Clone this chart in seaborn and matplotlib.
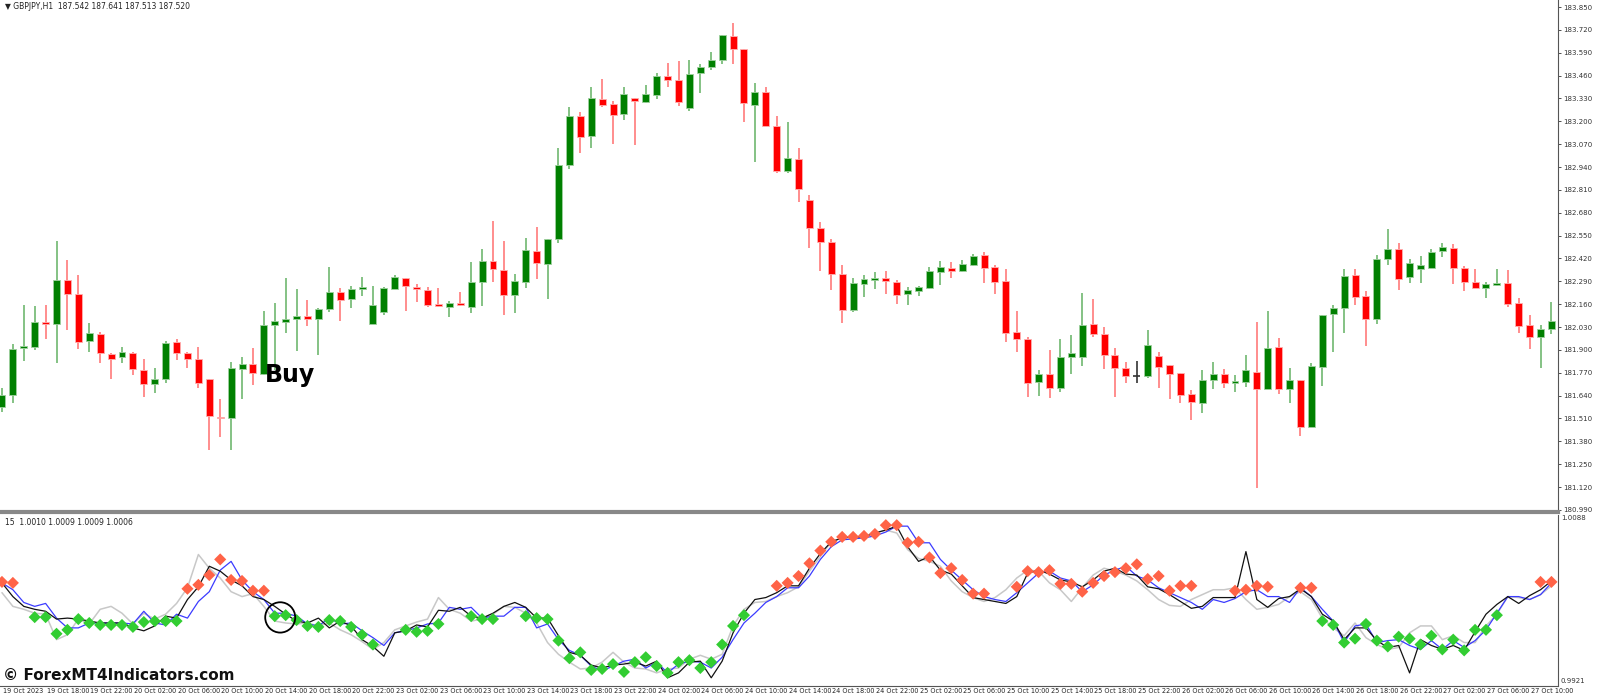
import numpy as np
import pandas as pd
import matplotlib
matplotlib.use("Agg")
import matplotlib.pyplot as plt
import seaborn as sns

sns.set_style("white")
plt.rcParams['font.family'] = ['DejaVu Sans']

# GBPJPY H1 candles (open, high, low, close)
opens = [181.575, 181.643, 181.911, 181.917, 182.059, 182.047, 182.298, 182.218, 181.951, 181.991,
         181.877, 181.860, 181.883, 181.786, 181.706, 181.735, 181.945, 181.883, 181.848, 181.735,
         181.519, 181.513, 181.792, 181.820, 181.763, 182.042, 182.059, 182.076, 182.093, 182.076,
         182.133, 182.229, 182.190, 182.246, 182.047, 182.116, 182.246, 182.309, 182.258, 182.241,
         182.161, 182.144, 182.167, 182.144, 182.286, 182.406, 182.355, 182.212, 182.286, 182.463,
         182.389, 182.531, 182.952, 183.230, 183.117, 183.327, 183.299, 183.242, 183.333, 183.310,
         183.350, 183.458, 183.435, 183.276, 183.475, 183.509, 183.549, 183.685, 183.611, 183.293,
         183.367, 183.173, 182.918, 182.986, 182.753, 182.593, 182.514, 182.332, 182.127, 182.275,
         182.298, 182.309, 182.286, 182.218, 182.235, 182.252, 182.343, 182.366, 182.349, 182.383,
         182.440, 182.372, 182.292, 182.002, 181.962, 181.718, 181.763, 181.684, 181.860, 181.860,
         182.047, 181.991, 181.871, 181.797, 181.752, 181.752, 181.865, 181.814, 181.769, 181.649,
         181.598, 181.729, 181.763, 181.712, 181.718, 181.775, 181.678, 181.917, 181.678, 181.729,
         181.462, 181.803, 182.104, 182.138, 182.326, 182.207, 182.076, 182.417, 182.474, 182.315,
         182.360, 182.366, 182.463, 182.480, 182.366, 182.286, 182.252, 182.269, 182.281, 182.167,
         182.042, 181.973, 182.019]
highs = [181.684, 181.934, 182.156, 182.150, 182.156, 182.520, 182.412, 182.326, 182.053, 182.002,
         181.883, 181.917, 181.888, 181.848, 181.797, 181.951, 181.962, 181.888, 181.917, 181.735,
         181.621, 181.831, 181.860, 181.911, 182.121, 182.167, 182.309, 182.247, 182.184, 182.138,
         182.372, 182.252, 182.264, 182.315, 182.264, 182.258, 182.326, 182.309, 182.275, 182.258,
         182.252, 182.178, 182.229, 182.400, 182.474, 182.633, 182.520, 182.332, 182.537, 182.599,
         182.531, 183.048, 183.281, 183.253, 183.395, 183.441, 183.316, 183.395, 183.333, 183.407,
         183.475, 183.532, 183.543, 183.549, 183.526, 183.594, 183.691, 183.759, 183.611, 183.418,
         183.395, 183.230, 183.196, 183.048, 182.781, 182.628, 182.531, 182.383, 182.309, 182.326,
         182.343, 182.349, 182.298, 182.258, 182.264, 182.372, 182.406, 182.400, 182.412, 182.446,
         182.457, 182.383, 182.360, 182.121, 181.973, 181.786, 181.900, 181.962, 181.985, 182.224,
         182.190, 182.030, 181.911, 181.831, 181.837, 182.013, 181.888, 181.814, 181.769, 181.672,
         181.786, 181.831, 181.792, 181.758, 181.871, 182.059, 182.121, 181.968, 181.797, 181.729,
         181.826, 182.099, 182.156, 182.360, 182.360, 182.235, 182.440, 182.588, 182.508, 182.417,
         182.434, 182.474, 182.508, 182.502, 182.377, 182.360, 182.286, 182.360, 182.355, 182.195,
         182.099, 182.042, 182.173]
lows = [181.547, 181.598, 181.837, 181.900, 181.963, 181.826, 182.015, 181.905, 181.888, 181.826,
        181.735, 181.826, 181.758, 181.632, 181.655, 181.712, 181.843, 181.797, 181.684, 181.331,
        181.405, 181.331, 181.621, 181.700, 181.758, 181.786, 181.996, 181.894, 182.036, 181.871,
        182.116, 182.064, 182.138, 182.207, 182.047, 182.099, 182.246, 182.121, 182.173, 182.144,
        182.144, 182.087, 182.150, 182.110, 182.150, 182.286, 182.099, 182.110, 182.252, 182.303,
        182.190, 182.508, 182.929, 183.020, 183.048, 183.281, 183.071, 183.208, 183.065, 183.304,
        183.327, 183.395, 183.287, 183.259, 183.361, 183.492, 183.526, 183.526, 183.196, 182.969,
        183.173, 182.906, 182.906, 182.741, 182.480, 182.349, 182.241, 182.053, 182.116, 182.201,
        182.246, 182.218, 182.161, 182.156, 182.207, 182.246, 182.269, 182.309, 182.343, 182.377,
        182.281, 182.218, 181.945, 181.888, 181.632, 181.638, 181.627, 181.661, 181.763, 181.809,
        181.973, 181.792, 181.632, 181.712, 181.712, 181.740, 181.684, 181.621, 181.598, 181.502,
        181.541, 181.678, 181.684, 181.661, 181.689, 181.115, 181.678, 181.649, 181.598, 181.411,
        181.462, 181.695, 181.888, 181.996, 182.156, 181.922, 182.047, 182.383, 182.241, 182.281,
        182.281, 182.366, 182.428, 182.275, 182.235, 182.252, 182.195, 182.264, 182.144, 181.996,
        181.905, 181.797, 181.991]
closes = [181.643, 181.905, 181.922, 182.059, 182.047, 182.298, 182.218, 181.945, 181.996, 181.883,
          181.848, 181.888, 181.792, 181.706, 181.735, 181.939, 181.883, 181.848, 181.712, 181.524,
          181.513, 181.797, 181.820, 181.769, 182.042, 182.064, 182.076, 182.093, 182.076, 182.133,
          182.229, 182.184, 182.246, 182.258, 182.156, 182.252, 182.315, 182.264, 182.246, 182.156,
          182.150, 182.167, 182.156, 182.286, 182.406, 182.360, 182.212, 182.292, 182.468, 182.394,
          182.531, 182.952, 183.230, 183.111, 183.333, 183.293, 183.236, 183.355, 183.316, 183.355,
          183.458, 183.435, 183.310, 183.469, 183.509, 183.549, 183.691, 183.611, 183.304, 183.367,
          183.173, 182.918, 182.991, 182.815, 182.593, 182.514, 182.332, 182.127, 182.281, 182.303,
          182.309, 182.292, 182.212, 182.241, 182.258, 182.349, 182.372, 182.349, 182.389, 182.434,
          182.366, 182.286, 181.996, 181.962, 181.712, 181.763, 181.684, 181.860, 181.883, 182.042,
          181.991, 181.871, 181.797, 181.752, 181.752, 181.928, 181.803, 181.763, 181.643, 181.604,
          181.729, 181.763, 181.712, 181.723, 181.786, 181.678, 181.911, 181.678, 181.729, 181.462,
          181.809, 182.099, 182.138, 182.320, 182.201, 182.076, 182.417, 182.474, 182.303, 182.394,
          182.383, 182.457, 182.485, 182.366, 182.286, 182.252, 182.275, 182.281, 182.161, 182.036,
          181.973, 182.019, 182.064]

# indicator lines, in units of 0.0001
ind_black = [10021, 10007, 9997, 9994, 9992, 9984, 9985, 9984, 9982, 9980,
             9980, 9980, 9975, 9972, 9977, 9987, 9985, 10004, 10017, 10038,
             10033, 10024, 10018, 10007, 10004, 9997, 9989, 9982, 9980, 9985,
             9975, 9982, 9977, 9963, 9956, 9946, 9970, 9972, 9978, 9976,
             9993, 9992, 9996, 9987, 9985, 9990, 9997, 10001, 9996, 9985,
             9985, 9967, 9950, 9947, 9937, 9934, 9937, 9938, 9940, 9936,
             9941, 9924, 9929, 9940, 9941, 9924, 9941, 9970, 9990, 10004,
             10006, 10011, 10018,
             10018, 10036, 10051, 10063, 10067, 10068, 10068, 10072, 10075, 10079,
             10058, 10043, 10048, 10034, 10030, 10018, 10006, 10004, 10002, 10000,
             10007, 10031, 10034, 10030, 10024, 10022, 10017, 10024, 10033, 10036,
             10030, 10029, 10017, 10015, 10009, 10002, 9995, 9997, 10006, 10006,
             10006, 10053, 10004, 9996, 10005, 10007, 10015, 10007, 9989, 9982,
             9963, 9975, 9975, 9962, 9955, 9957, 9929, 9963, 9957, 9953,
             9957, 9952, 9971, 9989, 9999, 10007, 10000, 10008, 10014, 10023]
ind_blue = [10021, 10014, 10001, 9997, 10000, 9985, 9975, 9975, 9980, 9980,
            9980, 9980, 9979, 9992, 9980, 9978, 9989, 9985, 10002, 10012,
            10034, 10043, 10024, 10012, 10004, 9990, 9990, 9987, 9979, 9977,
            9985, 9979, 9980, 9972, 9965, 9957, 9970, 9972, 9975, 9979,
            9980, 9996, 9994, 9996, 9985, 9987, 9987, 9996, 9996, 9975,
            9979, 9963, 9952, 9947, 9936, 9931, 9936, 9941, 9943, 9934,
            9940, 9929, 9938, 9941, 9940, 9934, 9945, 9963, 9980, 9990,
            10001, 10007, 10016,
            10016, 10028, 10045, 10058, 10065, 10066, 10067, 10069, 10073, 10079,
            10079, 10062, 10062, 10045, 10034, 10024, 10014, 10007, 10004, 10002,
            10011, 10021, 10031, 10033, 10026, 10023, 10012, 10019, 10029, 10034,
            10038, 10028, 10024, 10016, 10011, 10006, 10001, 9994, 10004, 10001,
            10005, 10012, 10014, 10007, 10007, 10001, 10016, 10007, 9994, 9982,
            9960, 9977, 9979, 9960, 9962, 9963, 9957, 9953, 9962, 9953,
            9962, 9955, 9962, 9973, 9990, 10007, 10007, 10004, 10009, 10021]
ind_gray = [10011, 9997, 9994, 9990, 9989, 9963, 9968, 9984, 9979, 9994,
            9997, 9990, 9979, 9990, 9984, 9989, 10000, 10016, 10050, 10036,
            10026, 10012, 10007, 10010, 9997, 9982, 9980, 9979, 9980, 9977,
            9980, 9973, 9968, 9961, 9953, 9960, 9973, 9977, 9981, 9984,
            10006, 9994, 9990, 9982, 9984, 9989, 9997, 9996, 9990, 9980,
            9960, 9948, 9940, 9933, 9934, 9940, 9950, 9940, 9934, 9933,
            9929, 9933, 9934, 9943, 9947, 9943, 9948, 9977, 9994, 10001,
            10002, 10007, 10011,
            10017, 10033, 10048, 10063, 10067, 10067, 10068, 10072, 10075, 10072,
            10055, 10046, 10043, 10038, 10023, 10012, 10006, 10002, 10006, 10014,
            10026, 10034, 10033, 10021, 10014, 10002, 10016, 10029, 10036, 10033,
            10029, 10023, 10014, 10004, 9998, 9997, 10004, 10009, 10014, 10014,
            10016, 10004, 9994, 9996, 9999, 10007, 10012, 10004, 9985, 9975,
            9967, 9980, 9965, 9958, 9953, 9955, 9970, 9977, 9977, 9963,
            9967, 9960, 9960, 9977, 9989, 10007, 10006, 10004, 10009, 10018]
# signal diamonds: value (0.0001 units) and colour code per bar (r / g / . for none)
dia_val = [10022, 10021, 0, 9986, 9986, 9969, 9973, 9984, 9980, 9978,
           9978, 9978, 9976, 9981, 9982, 9982, 9982, 10015, 10019, 10029,
           10045, 10024, 10023, 10013, 10013, 9987, 9988, 9983, 9977, 9976,
           9983, 9982, 9976, 9968, 9958, 0, 9969, 9973, 9971, 9972,
           9979, 0, 9985, 9987, 9984, 9984, 9984, 0, 9987, 9985,
           9984, 9962, 9944, 9950, 9932, 9933, 9938, 9930, 9940, 9945,
           9936, 9929, 9940, 9942, 9934, 9940, 9958, 9977, 9988, 0,
           0, 10018, 10021,
           10028, 10041, 10054, 10063, 10068, 10068, 10069, 10071, 10080, 10080,
           10062, 10063, 10047, 10031, 10036, 10024, 10010, 10010, 0, 0,
           10017, 10033, 10032, 10034, 10020, 10020, 10012, 10021, 10028, 10032,
           10036, 10040, 10025, 10028, 10013, 10018, 10018, 0, 0, 0,
           10013, 10014, 10018, 10017, 0, 0, 10016, 10016, 9982, 9978,
           9960, 9964, 9979, 9962, 9956, 9966, 9964, 9958, 9967, 9953,
           9963, 9952, 9973, 9973, 9988, 0, 0, 0, 10022, 10022]
dia_col = ("rr.gggggggggggggg" + "rrrrrrrr" + "ggggggggggg.ggggg.ggg.gggggggggggggggggggggg.." + "rr"
           + "rrrrrrrrrrrrrrrrrr..rrrrrrrrrrrrrrrrr...rrrr..rr" + "ggggggggggggggggg" + "...rr")

time_labels = ["19 Oct 2023", "19 Oct 18:00", "19 Oct 22:00", "20 Oct 02:00", "20 Oct 06:00", "20 Oct 10:00",
               "20 Oct 14:00", "20 Oct 18:00", "20 Oct 22:00", "23 Oct 02:00", "23 Oct 06:00", "23 Oct 10:00",
               "23 Oct 14:00", "23 Oct 18:00", "23 Oct 22:00", "24 Oct 02:00", "24 Oct 06:00", "24 Oct 10:00",
               "24 Oct 14:00", "24 Oct 18:00", "24 Oct 22:00", "25 Oct 02:00", "25 Oct 06:00", "25 Oct 10:00",
               "25 Oct 14:00", "25 Oct 18:00", "25 Oct 22:00", "26 Oct 02:00", "26 Oct 06:00", "26 Oct 10:00",
               "26 Oct 14:00", "26 Oct 18:00", "26 Oct 22:00", "27 Oct 02:00", "27 Oct 06:00", "27 Oct 10:00"]

n = len(opens)
bars = pd.DataFrame({"i": np.arange(n), "o": opens, "h": highs, "l": lows, "c": closes})
ind = pd.DataFrame({"i": np.arange(n),
                    "black": np.array(ind_black) / 10000,
                    "blue": np.array(ind_blue) / 10000,
                    "gray": np.array(ind_gray) / 10000})
dia = pd.DataFrame({"i": np.arange(n), "v": np.array(dia_val) / 10000, "c": list(dia_col)})
dia = dia[dia["c"] != "."]

W, H = 1600, 699
AW = 1558
fig = plt.figure(figsize=(16, 6.99), dpi=100)
ax = fig.add_axes([0, 1 - 512 / H, AW / W, 512 / H])
ax2 = fig.add_axes([0, 13 / H, AW / W, 171 / H])
XLIM = (-0.18, 142.6)

GREEN, RED = "#008000", "#ff0000"
up = bars[bars.c > bars.o]
dn = bars[bars.c < bars.o]
dj = bars[bars.c == bars.o]
ax.vlines(up.i, up.l, up.h, color="#6fb86f", lw=1.2, zorder=1)
ax.vlines(dn.i, dn.l, dn.h, color="#ff7a7a", lw=1.2, zorder=1)
ax.vlines(dj.i, dj.l, dj.h, color="#333333", lw=1.2, zorder=1)
ax.bar(up.i, up.c - up.o, bottom=up.o, width=0.64, color=GREEN, edgecolor="#9fd09f", lw=0.6, zorder=2)
ax.bar(dn.i, dn.o - dn.c, bottom=dn.c, width=0.64, color=RED, edgecolor="#ffb0b0", lw=0.6, zorder=2)
ax.hlines(dj.o, dj.i - 0.32, dj.i + 0.32, color="#333333", lw=1.2, zorder=2)

ax.set_xlim(*XLIM)
ax.set_ylim(180.978, 183.890)
ticks = 180.990 + 0.13 * np.arange(23)
ax.yaxis.tick_right()
ax.set_yticks(ticks)
ax.set_yticklabels([f"{t:.3f}" for t in ticks], fontsize=5)
ax.tick_params(axis="y", length=2.5, width=0.6, pad=1.5, colors="#333333")
ax.set_xticks([])
for s in ["top", "left"]:
    ax.spines[s].set_visible(False)
ax.spines["right"].set_color("#555555")
ax.spines["bottom"].set_color("#888888")
ax.spines["bottom"].set_linewidth(3)
ax.text(0.003, 0.997, "▼ GBPJPY,H1  187.542 187.641 187.513 187.520", transform=ax.transAxes,
        fontsize=5.5, va="top", ha="left", color="#222222")
ax.text(24.1, 181.76, "Buy", fontsize=17, fontweight="bold", va="center", ha="left", color="black")

sns.lineplot(data=ind, x="i", y="gray", ax=ax2, color="#c8c8c8", lw=1.1, zorder=1)
sns.lineplot(data=ind, x="i", y="blue", ax=ax2, color="#3b3bff", lw=0.9, zorder=2)
sns.lineplot(data=ind, x="i", y="black", ax=ax2, color="#111111", lw=0.9, zorder=3)
sns.scatterplot(data=dia, x="i", y="v", hue="c", palette={"r": "#ff6347", "g": "#32cd32"},
                marker="D", s=38, linewidth=0, legend=False, ax=ax2, zorder=4)
ax2.add_patch(matplotlib.patches.Ellipse((25.5, 0.99857), 2.75, 0.0031, fill=False, lw=1.3,
                                         color="black", zorder=5))

ax2.set_xlim(*XLIM)
ax2.set_ylim(0.99156, 1.00904)
ax2.set_xlabel("")
ax2.set_ylabel("")
ax2.yaxis.tick_right()
ax2.set_yticks([0.9921, 1.0088])
ax2.set_yticklabels(["0.9921", "1.0088"], fontsize=5)
ax2.tick_params(axis="y", length=0, pad=2, colors="#333333")
xt = np.arange(0, 4 * len(time_labels), 4)
ax2.set_xticks(xt)
ax2.set_xticklabels([""] * len(xt))
ax2.tick_params(axis="x", length=3, width=0.6, direction="out")
for x, lab in zip(xt, time_labels):
    ax2.text(x + 0.1, -0.012, lab, transform=ax2.get_xaxis_transform(), fontsize=4.7,
             va="top", ha="left", color="#222222")
for s in ["top", "left"]:
    ax2.spines[s].set_visible(False)
ax2.spines["right"].set_color("#555555")
ax2.spines["bottom"].set_color("#555555")
ax2.text(0.003, 0.985, "15  1.0010 1.0009 1.0009 1.0006", transform=ax2.transAxes,
         fontsize=5.5, va="top", ha="left", color="#222222")
fig.text(0.002, 16 / H, "© ForexMT4Indicators.com", fontsize=11, fontweight="bold",
         va="bottom", ha="left", color="#111111")

fig.savefig("out.png", dpi=100)
